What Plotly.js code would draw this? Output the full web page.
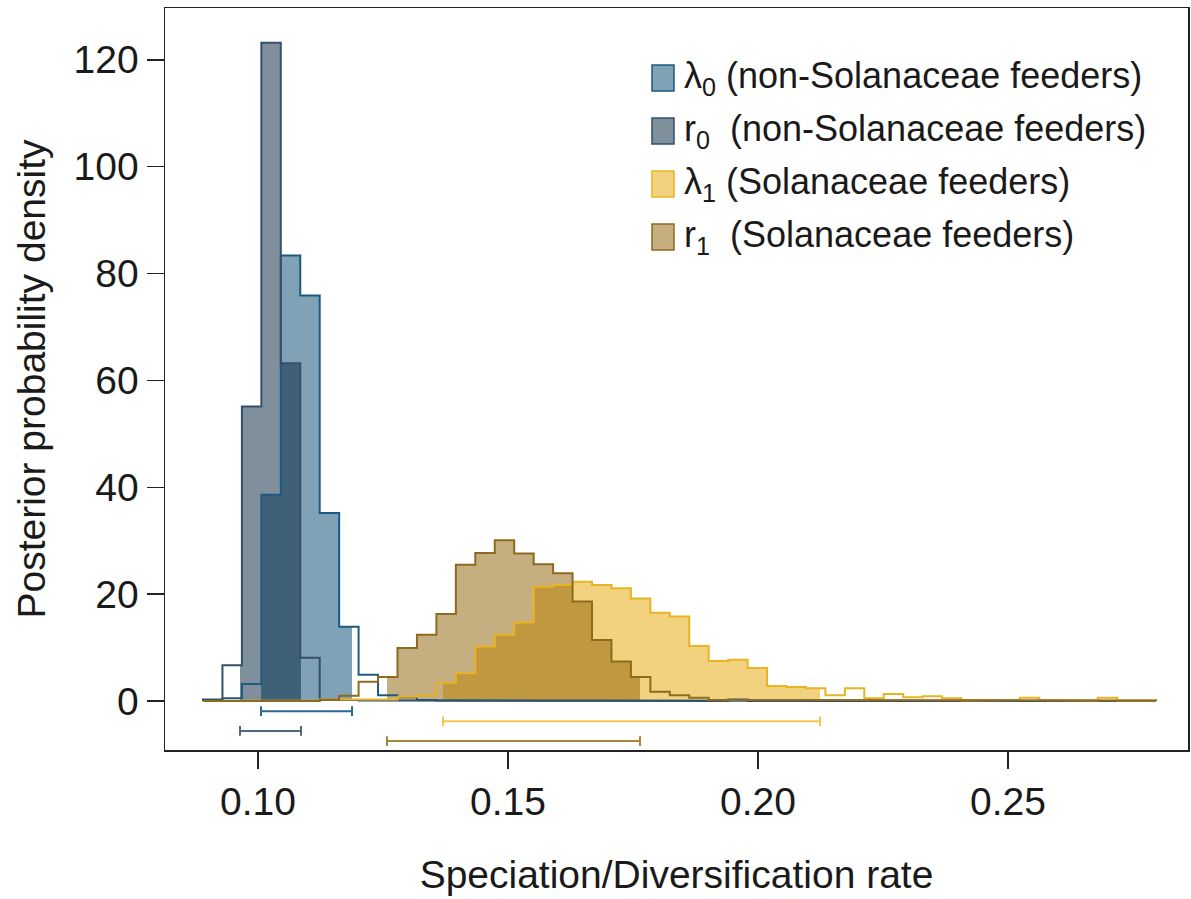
<!DOCTYPE html>
<html>
<head>
<meta charset="utf-8">
<script src="https://cdn.plot.ly/plotly-3.0.1.min.js"></script>
<style>html,body{margin:0;padding:0;background:#fff;}#chart{width:1191px;height:899px;}</style>
</head>
<body>
<div id="chart"></div>
<script>
// ---- histogram bin grid (shared by all four posteriors) ----
const binStart = 0.089;
const binWidth = 0.00389;

// ---- posterior densities per bin (49 bins) ----
const lambda0 = [0.3,0.5,3.2,38.6,83.4,75.9,35.2,13.9,4.9,1.1,0.7,0.2,0.1,0.1,0.1,0.1,0.1,0.1,0.1,0.1,0.1,0.1,0.1,0.1,0.1,0,0,0,0,0,0,0,0,0,0,0,0,0,0,0,0,0,0,0,0,0,0,0,0];
const r0      = [0.2,6.7,55.1,123.2,63.2,8.1,0.3,0.2,0.1,0.1,0.1,0.1,0.1,0.1,0.1,0.1,0.1,0.1,0.1,0.1,0.1,0.1,0.1,0.1,0.1,0.1,0,0.3,0,0,0,0,0,0,0,0,0,0,0,0,0,0,0,0,0,0,0,0,0];
const lambda1 = [0,0,0,0,0.1,0.1,0.3,0.2,0.3,0.3,0.8,1.0,3.4,5.2,10.2,12.4,14.7,21.4,21.7,22.3,21.7,21.1,19.2,16.5,15.8,10.3,7.5,7.7,6.2,2.8,2.6,2.4,1.1,2.4,0.5,1.3,0.7,0.9,0.5,0.1,0.2,0.2,0.6,0.2,0.1,0.1,0.6,0.1,0.1];
const r1      = [0,0,0,0,0,0,0.2,1.0,3.6,4.5,9.9,12.4,16.3,25.5,27.7,30.1,27.6,25.6,23.9,18.6,11.4,7.4,4.5,1.75,1.1,0.6,0.2,0.2,0.1,0.1,0.1,0.1,0.1,0.1,0.1,0.1,0.1,0.1,0.1,0.1,0.1,0.1,0.1,0.1,0.1,0.1,0.1,0.1,0.1];

// ---- 95% credible intervals [low, high] ----
const ciLambda0 = [0.1006, 0.1188];
const ciR0      = [0.0964, 0.1086];
const ciLambda1 = [0.1370, 0.2124];
const ciR1      = [0.1258, 0.1764];

// ---- labels ----
const seriesLabels = [
  "λ<sub>0</sub> (non-Solanaceae feeders)",
  "r<sub>0</sub>\u00a0 (non-Solanaceae feeders)",
  "λ<sub>1</sub> (Solanaceae feeders)",
  "r<sub>1</sub>\u00a0 (Solanaceae feeders)"
];
const xTickVals = [0.10, 0.15, 0.20, 0.25];
const yTickVals = [0, 20, 40, 60, 80, 100, 120];
const xTitle = "Speciation/Diversification rate";
const yTitle = "Posterior probability density";

// ---- styles ----
const styles = [
  {fill:"rgba(0,70,112,0.5)",  line:"#1d5a80", ci:"#2b6990", ciY:-1.9},
  {fill:"rgba(0,32,58,0.5)",   line:"#34506a", ci:"#4d6880", ciY:-5.6},
  {fill:"rgba(229,165,0,0.5)", line:"#e9b322", ci:"#efc850", ciY:-3.8},
  {fill:"rgba(139,93,0,0.5)",  line:"#8d6a1e", ci:"#a6873a", ciY:-7.5}
];
const FONT = "Liberation Sans, Arial, Helvetica, sans-serif";

const series = [lambda0, r0, lambda1, r1];
const intervals = [ciLambda0, ciR0, ciLambda1, ciR1];

function edge(k){ return binStart + k*binWidth; }

function outline(vals){
  const xs=[edge(0)], ys=[0];
  for(let k=0;k<vals.length;k++){ xs.push(edge(k), edge(k+1)); ys.push(vals[k], vals[k]); }
  xs.push(edge(vals.length)); ys.push(0);
  return {xs, ys};
}
function fillPoly(vals, lo, hi){
  const xs=[lo], ys=[0];
  for(let k=0;k<vals.length;k++){
    const a=edge(k), b=edge(k+1);
    if(b<=lo || a>=hi) continue;
    xs.push(Math.max(a,lo), Math.min(b,hi)); ys.push(vals[k], vals[k]);
  }
  xs.push(hi); ys.push(0);
  return {xs, ys};
}

const traces = [];
series.forEach((vals,i)=>{
  const p = fillPoly(vals, intervals[i][0], intervals[i][1]);
  traces.push({x:p.xs, y:p.ys, type:"scatter", mode:"lines", fill:"toself",
    fillcolor:styles[i].fill, line:{width:0}, showlegend:false, hoverinfo:"skip"});
});
series.forEach((vals,i)=>{
  const o = outline(vals);
  traces.push({x:o.xs, y:o.ys, type:"scatter", mode:"lines",
    line:{color:styles[i].line, width:2}, showlegend:false, hoverinfo:"skip"});
});
intervals.forEach((ci,i)=>{
  traces.push({x:ci, y:[styles[i].ciY, styles[i].ciY], type:"scatter", mode:"lines+markers",
    line:{color:styles[i].ci, width:2},
    marker:{symbol:"line-ns-open", size:7, line:{color:styles[i].ci, width:2}},
    showlegend:false, hoverinfo:"skip"});
});

// legend (drawn manually)
const L = 165, R = 1188, T = 8, B = 750;
const px2x = v => (v - L) / (R - L);
const px2y = v => (B - v) / (B - T);
const rowY = [78, 131, 184, 237];
const shapes = [], annotations = [];
rowY.forEach((yc,i)=>{
  shapes.push({type:"rect", xref:"paper", yref:"paper",
    x0:px2x(652), x1:px2x(674), y0:px2y(yc+13), y1:px2y(yc-13),
    fillcolor:styles[i].fill, line:{color:styles[i].line, width:1.5}});
  annotations.push({xref:"paper", yref:"paper", x:px2x(682), y:px2y(yc),
    xanchor:"left", yanchor:"middle", showarrow:false, text:seriesLabels[i],
    font:{family:FONT, size:36, color:"#1a1a1a"}});
});

const layout = {
  width:1191, height:899,
  margin:{l:L, r:1191-R, t:T, b:899-B},
  paper_bgcolor:"#fff", plot_bgcolor:"#fff",
  font:{family:FONT, size:38, color:"#1a1a1a"},
  xaxis:{range:[0.0814,0.2860], tickvals:xTickVals, tickformat:".2f",
    showgrid:false, zeroline:false, showline:true, mirror:true, linecolor:"#222", linewidth:1.5,
    ticks:"outside", ticklen:17, tickwidth:1.5, tickcolor:"#222",
    tickfont:{family:FONT, size:39, color:"#1a1a1a"},
    title:{text:xTitle, font:{family:FONT, size:39, color:"#1a1a1a"}, standoff:38}},
  yaxis:{range:[-9.17,129.7], tickvals:yTickVals,
    showgrid:false, zeroline:false, showline:true, mirror:true, linecolor:"#222", linewidth:1.5,
    ticks:"outside", ticklen:17, tickwidth:1.5, tickcolor:"#222",
    tickfont:{family:FONT, size:39, color:"#1a1a1a"},
    title:{text:yTitle, font:{family:FONT, size:39, color:"#1a1a1a"}, standoff:16}},
  shapes, annotations, showlegend:false
};

Plotly.newPlot("chart", traces, layout, {displayModeBar:false, staticPlot:true});
</script>
</body>
</html>
